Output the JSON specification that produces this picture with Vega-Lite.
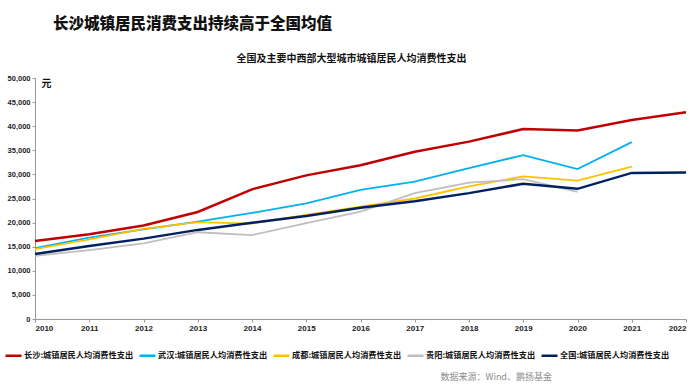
{
  "$schema": "https://vega.github.io/schema/vega-lite/v6.json",
  "background": "white",
  "padding": {"left": 4, "top": 16, "right": 0, "bottom": 0},
  "title": {
    "text": "长沙城镇居民消费支出持续高于全国均值",
    "anchor": "start",
    "frame": "group",
    "dx": 18,
    "dy": -2,
    "fontSize": 15.5,
    "font": "Noto Sans CJK SC",
    "fontWeight": 900,
    "color": "#111111",
    "offset": 20
  },
  "vconcat": [
    {
      "width": 651,
      "height": 241,
      "title": {
        "text": "全国及主要中西部大型城市城镇居民人均消费性支出",
        "fontSize": 10,
        "fontWeight": "bold",
        "font": "Noto Sans CJK SC",
        "anchor": "middle",
        "dx": -9,
        "offset": 10,
        "color": "#111111"
      },
      "data": {
        "values": [
          {"city": "长沙:城镇居民人均消费性支出", "year": 2010, "value": 16200},
          {"city": "长沙:城镇居民人均消费性支出", "year": 2011, "value": 17600},
          {"city": "长沙:城镇居民人均消费性支出", "year": 2012, "value": 19400},
          {"city": "长沙:城镇居民人均消费性支出", "year": 2013, "value": 22200},
          {"city": "长沙:城镇居民人均消费性支出", "year": 2014, "value": 26900},
          {"city": "长沙:城镇居民人均消费性支出", "year": 2015, "value": 29800},
          {"city": "长沙:城镇居民人均消费性支出", "year": 2016, "value": 31900},
          {"city": "长沙:城镇居民人均消费性支出", "year": 2017, "value": 34700},
          {"city": "长沙:城镇居民人均消费性支出", "year": 2018, "value": 36800},
          {"city": "长沙:城镇居民人均消费性支出", "year": 2019, "value": 39400},
          {"city": "长沙:城镇居民人均消费性支出", "year": 2020, "value": 39100},
          {"city": "长沙:城镇居民人均消费性支出", "year": 2021, "value": 41300},
          {"city": "长沙:城镇居民人均消费性支出", "year": 2022, "value": 42900},
          {"city": "武汉:城镇居民人均消费性支出", "year": 2010, "value": 14700},
          {"city": "武汉:城镇居民人均消费性支出", "year": 2011, "value": 16900},
          {"city": "武汉:城镇居民人均消费性支出", "year": 2012, "value": 18600},
          {"city": "武汉:城镇居民人均消费性支出", "year": 2013, "value": 20200},
          {"city": "武汉:城镇居民人均消费性支出", "year": 2014, "value": 22000},
          {"city": "武汉:城镇居民人均消费性支出", "year": 2015, "value": 24000},
          {"city": "武汉:城镇居民人均消费性支出", "year": 2016, "value": 26800},
          {"city": "武汉:城镇居民人均消费性支出", "year": 2017, "value": 28500},
          {"city": "武汉:城镇居民人均消费性支出", "year": 2018, "value": 31300},
          {"city": "武汉:城镇居民人均消费性支出", "year": 2019, "value": 34000},
          {"city": "武汉:城镇居民人均消费性支出", "year": 2020, "value": 31100},
          {"city": "武汉:城镇居民人均消费性支出", "year": 2021, "value": 36700},
          {"city": "成都:城镇居民人均消费性支出", "year": 2010, "value": 14500},
          {"city": "成都:城镇居民人均消费性支出", "year": 2011, "value": 16500},
          {"city": "成都:城镇居民人均消费性支出", "year": 2012, "value": 18700},
          {"city": "成都:城镇居民人均消费性支出", "year": 2013, "value": 20100},
          {"city": "成都:城镇居民人均消费性支出", "year": 2014, "value": 19800},
          {"city": "成都:城镇居民人均消费性支出", "year": 2015, "value": 21600},
          {"city": "成都:城镇居民人均消费性支出", "year": 2016, "value": 23300},
          {"city": "成都:城镇居民人均消费性支出", "year": 2017, "value": 25000},
          {"city": "成都:城镇居民人均消费性支出", "year": 2018, "value": 27500},
          {"city": "成都:城镇居民人均消费性支出", "year": 2019, "value": 29600},
          {"city": "成都:城镇居民人均消费性支出", "year": 2020, "value": 28700},
          {"city": "成都:城镇居民人均消费性支出", "year": 2021, "value": 31600},
          {"city": "贵阳:城镇居民人均消费性支出", "year": 2010, "value": 13100},
          {"city": "贵阳:城镇居民人均消费性支出", "year": 2011, "value": 14300},
          {"city": "贵阳:城镇居民人均消费性支出", "year": 2012, "value": 15700},
          {"city": "贵阳:城镇居民人均消费性支出", "year": 2013, "value": 18000},
          {"city": "贵阳:城镇居民人均消费性支出", "year": 2014, "value": 17400},
          {"city": "贵阳:城镇居民人均消费性支出", "year": 2015, "value": 19900},
          {"city": "贵阳:城镇居民人均消费性支出", "year": 2016, "value": 22300},
          {"city": "贵阳:城镇居民人均消费性支出", "year": 2017, "value": 26100},
          {"city": "贵阳:城镇居民人均消费性支出", "year": 2018, "value": 28300},
          {"city": "贵阳:城镇居民人均消费性支出", "year": 2019, "value": 29000},
          {"city": "贵阳:城镇居民人均消费性支出", "year": 2020, "value": 26400},
          {"city": "全国:城镇居民人均消费性支出", "year": 2010, "value": 13471},
          {"city": "全国:城镇居民人均消费性支出", "year": 2011, "value": 15161},
          {"city": "全国:城镇居民人均消费性支出", "year": 2012, "value": 16674},
          {"city": "全国:城镇居民人均消费性支出", "year": 2013, "value": 18488},
          {"city": "全国:城镇居民人均消费性支出", "year": 2014, "value": 19968},
          {"city": "全国:城镇居民人均消费性支出", "year": 2015, "value": 21392},
          {"city": "全国:城镇居民人均消费性支出", "year": 2016, "value": 23079},
          {"city": "全国:城镇居民人均消费性支出", "year": 2017, "value": 24445},
          {"city": "全国:城镇居民人均消费性支出", "year": 2018, "value": 26112},
          {"city": "全国:城镇居民人均消费性支出", "year": 2019, "value": 28063},
          {"city": "全国:城镇居民人均消费性支出", "year": 2020, "value": 27007},
          {"city": "全国:城镇居民人均消费性支出", "year": 2021, "value": 30307},
          {"city": "全国:城镇居民人均消费性支出", "year": 2022, "value": 30391}
        ]
      },
      "encoding": {
        "x": {
          "field": "year",
          "type": "quantitative",
          "scale": {"domain": [2010, 2022], "nice": false, "zero": false},
          "axis": {
            "values": [2010, 2011, 2012, 2013, 2014, 2015, 2016, 2017, 2018, 2019, 2020, 2021, 2022],
            "format": "d",
            "labelFontSize": 8,
            "labelPadding": 2,
            "title": "数据来源：Wind、鹏扬基金",
            "titleX": 405,
            "titleY": 57,
            "titleAlign": "left",
            "titleBaseline": "middle",
            "titleFontSize": 9,
            "titleFontWeight": "normal",
            "titleColor": "#8c8c8c",
            "titleFont": "Noto Sans CJK SC"
          }
        },
        "y": {
          "field": "value",
          "type": "quantitative",
          "scale": {"domain": [0, 50000], "nice": false},
          "axis": {
            "values": [0, 5000, 10000, 15000, 20000, 25000, 30000, 35000, 40000, 45000, 50000],
            "format": ",.0f",
            "labelPadding": 2,
            "title": "元",
            "titleAngle": 0,
            "titleX": 6,
            "titleY": 5,
            "titleAlign": "left",
            "titleBaseline": "middle",
            "titleFontSize": 10,
            "titleFontWeight": "bold",
            "titleColor": "#111111",
            "titleFont": "Noto Sans CJK SC"
          }
        },
        "color": {
          "field": "city",
          "type": "nominal",
          "scale": {
            "domain": ["长沙:城镇居民人均消费性支出", "武汉:城镇居民人均消费性支出", "成都:城镇居民人均消费性支出", "贵阳:城镇居民人均消费性支出", "全国:城镇居民人均消费性支出"],
            "range": ["#C00000", "#00B0F0", "#FFC000", "#BFBFBF", "#002060"]
          },
          "legend": {
            "orient": "none",
            "legendX": -31,
            "legendY": 268,
            "direction": "horizontal",
            "columns": 5,
            "columnPadding": 0,
            "title": null,
            "symbolType": "stroke",
            "symbolSize": 256,
            "symbolStrokeWidth": 2.5,
            "labelFont": "Noto Sans CJK SC",
            "labelFontSize": 8.2,
            "labelFontWeight": "bold",
            "labelColor": "#111111",
            "labelOffset": 1,
            "labelLimit": 0
          }
        }
      },
      "layer": [
        {
          "transform": [{"filter": "datum.city !== '长沙:城镇居民人均消费性支出' && datum.city !== '全国:城镇居民人均消费性支出'"}],
          "mark": {"type": "line", "strokeWidth": 1.8}
        },
        {
          "transform": [{"filter": "datum.city === '长沙:城镇居民人均消费性支出' || datum.city === '全国:城镇居民人均消费性支出'"}],
          "mark": {"type": "line", "strokeWidth": 2.5}
        }
      ]
    }
  ],
  "config": {
    "view": {"stroke": null},
    "font": "Noto Sans CJK SC",
    "axis": {
      "grid": false,
      "domainColor": "#9a9a9a",
      "tickColor": "#9a9a9a",
      "tickSize": 3,
      "labelFont": "Liberation Sans",
      "labelFontWeight": "bold",
      "labelColor": "#222222",
      "labelFontSize": 7.5
    }
  }
}
